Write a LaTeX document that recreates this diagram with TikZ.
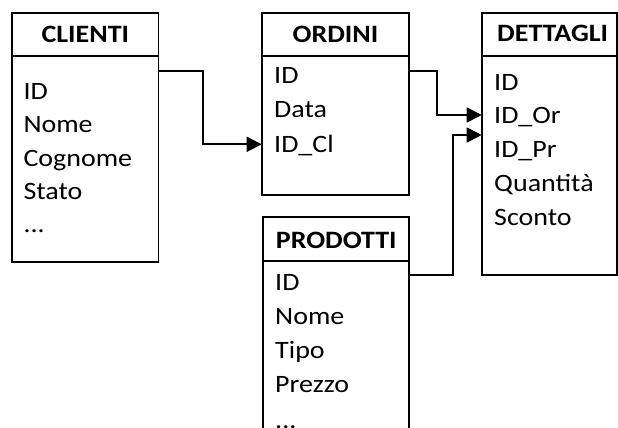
\documentclass[tikz,border=0pt]{standalone}
\usepackage{fontspec}
\setmainfont{Carlito}[FakeStretch=1.12]
\usetikzlibrary{arrows.meta}
\begin{document}
\begin{tikzpicture}[x=1pt,y=-1pt,
  tbl/.style={draw=black, line width=1.8pt, fill=white, inner sep=0pt, outer sep=0pt},
  sepline/.style={line width=1.8pt},
  hdr/.style={font=\fontsize{25}{30}\selectfont\bfseries, anchor=base, inner sep=0pt},
  row/.style={font=\fontsize{25}{30}\selectfont, anchor=base west, inner sep=0pt},
  link/.style={line width=1.8pt, -{Triangle[length=15pt,width=15pt]}}
]
\useasboundingbox (0,0) rectangle (618,428);
\clip (0,0) rectangle (618,428);

% CLIENTI
\node[tbl, minimum width=146.5pt, minimum height=249pt] (clienti) at (85.25,137.5) {};
\draw[sepline] (clienti.west |- 0,56) -- (clienti.east |- 0,56);
\node[hdr] (clientiT) at (85.3,42.3) {CLIENTI};
\node[row] (c1) at (23.3,99.3) {ID};
\node[row] (c2) at (23.3,132.7) {Nome};
\node[row] (c3) at (23.3,166.1) {Cognome};
\node[row] (c4) at (23.3,199.5) {Stato};
\node[row] (c5) at (23.3,232.9) {...};

% ORDINI
\node[tbl, minimum width=147.3pt, minimum height=182pt] (ordini) at (335.35,104) {};
\draw[sepline] (ordini.west |- 0,56) -- (ordini.east |- 0,56);
\node[hdr] (ordiniT) at (335.5,42.3) {ORDINI};
\node[row] (o1) at (274,83.5) {ID};
\node[row] (o2) at (274,117.8) {Data};
\node[row] (o3) at (274,152.1) {ID\_Cl};

% DETTAGLI
\node[tbl, minimum width=135.3pt, minimum height=262pt] (dettagli) at (549.35,144) {};
\draw[sepline] (dettagli.west |- 0,56) -- (dettagli.east |- 0,56);
\node[hdr, anchor=base west] (dettagliT) at (497,41.8) {DETTAGLI};
\node[row] (d1) at (494,90) {ID};
\node[row] (d2) at (494,123.8) {ID\_Or};
\node[row] (d3) at (494,157.6) {ID\_Pr};
\node[row] (d4) at (494,191.4) {Quantità};
\node[row] (d5) at (494,225.2) {Sconto};

% PRODOTTI
\node[tbl, minimum width=146.3pt, minimum height=240pt] (prodotti) at (335.85,337) {};
\draw[sepline] (prodotti.west |- 0,261) -- (prodotti.east |- 0,261);
\node[hdr] (prodottiT) at (336.3,248.3) {PRODOTTI};
\node[row] (p1) at (275,290.7) {ID};
\node[row] (p2) at (275,324.7) {Nome};
\node[row] (p3) at (275,358.7) {Tipo};
\node[row] (p4) at (275,392.7) {Prezzo};
\node[row] (p5) at (275,428.5) {...};

% connector end points
\coordinate (cOut) at (clienti.east |- 0,71);
\coordinate (oIn) at (ordini.west |- 0,144.3);
\coordinate (oOut) at (ordini.east |- 0,71);
\coordinate (dIn1) at (dettagli.west |- 0,115);
\coordinate (pOut) at (prodotti.east |- 0,275);
\coordinate (dIn2) at (dettagli.west |- 0,135);

\draw[link] (cOut) -- (202.7,71) |- (oIn);
\draw[link] (oOut) -- (436.7,71) |- (dIn1);
\draw[link] (pOut) -- (453.3,275) |- (dIn2);
\end{tikzpicture}
\end{document}
